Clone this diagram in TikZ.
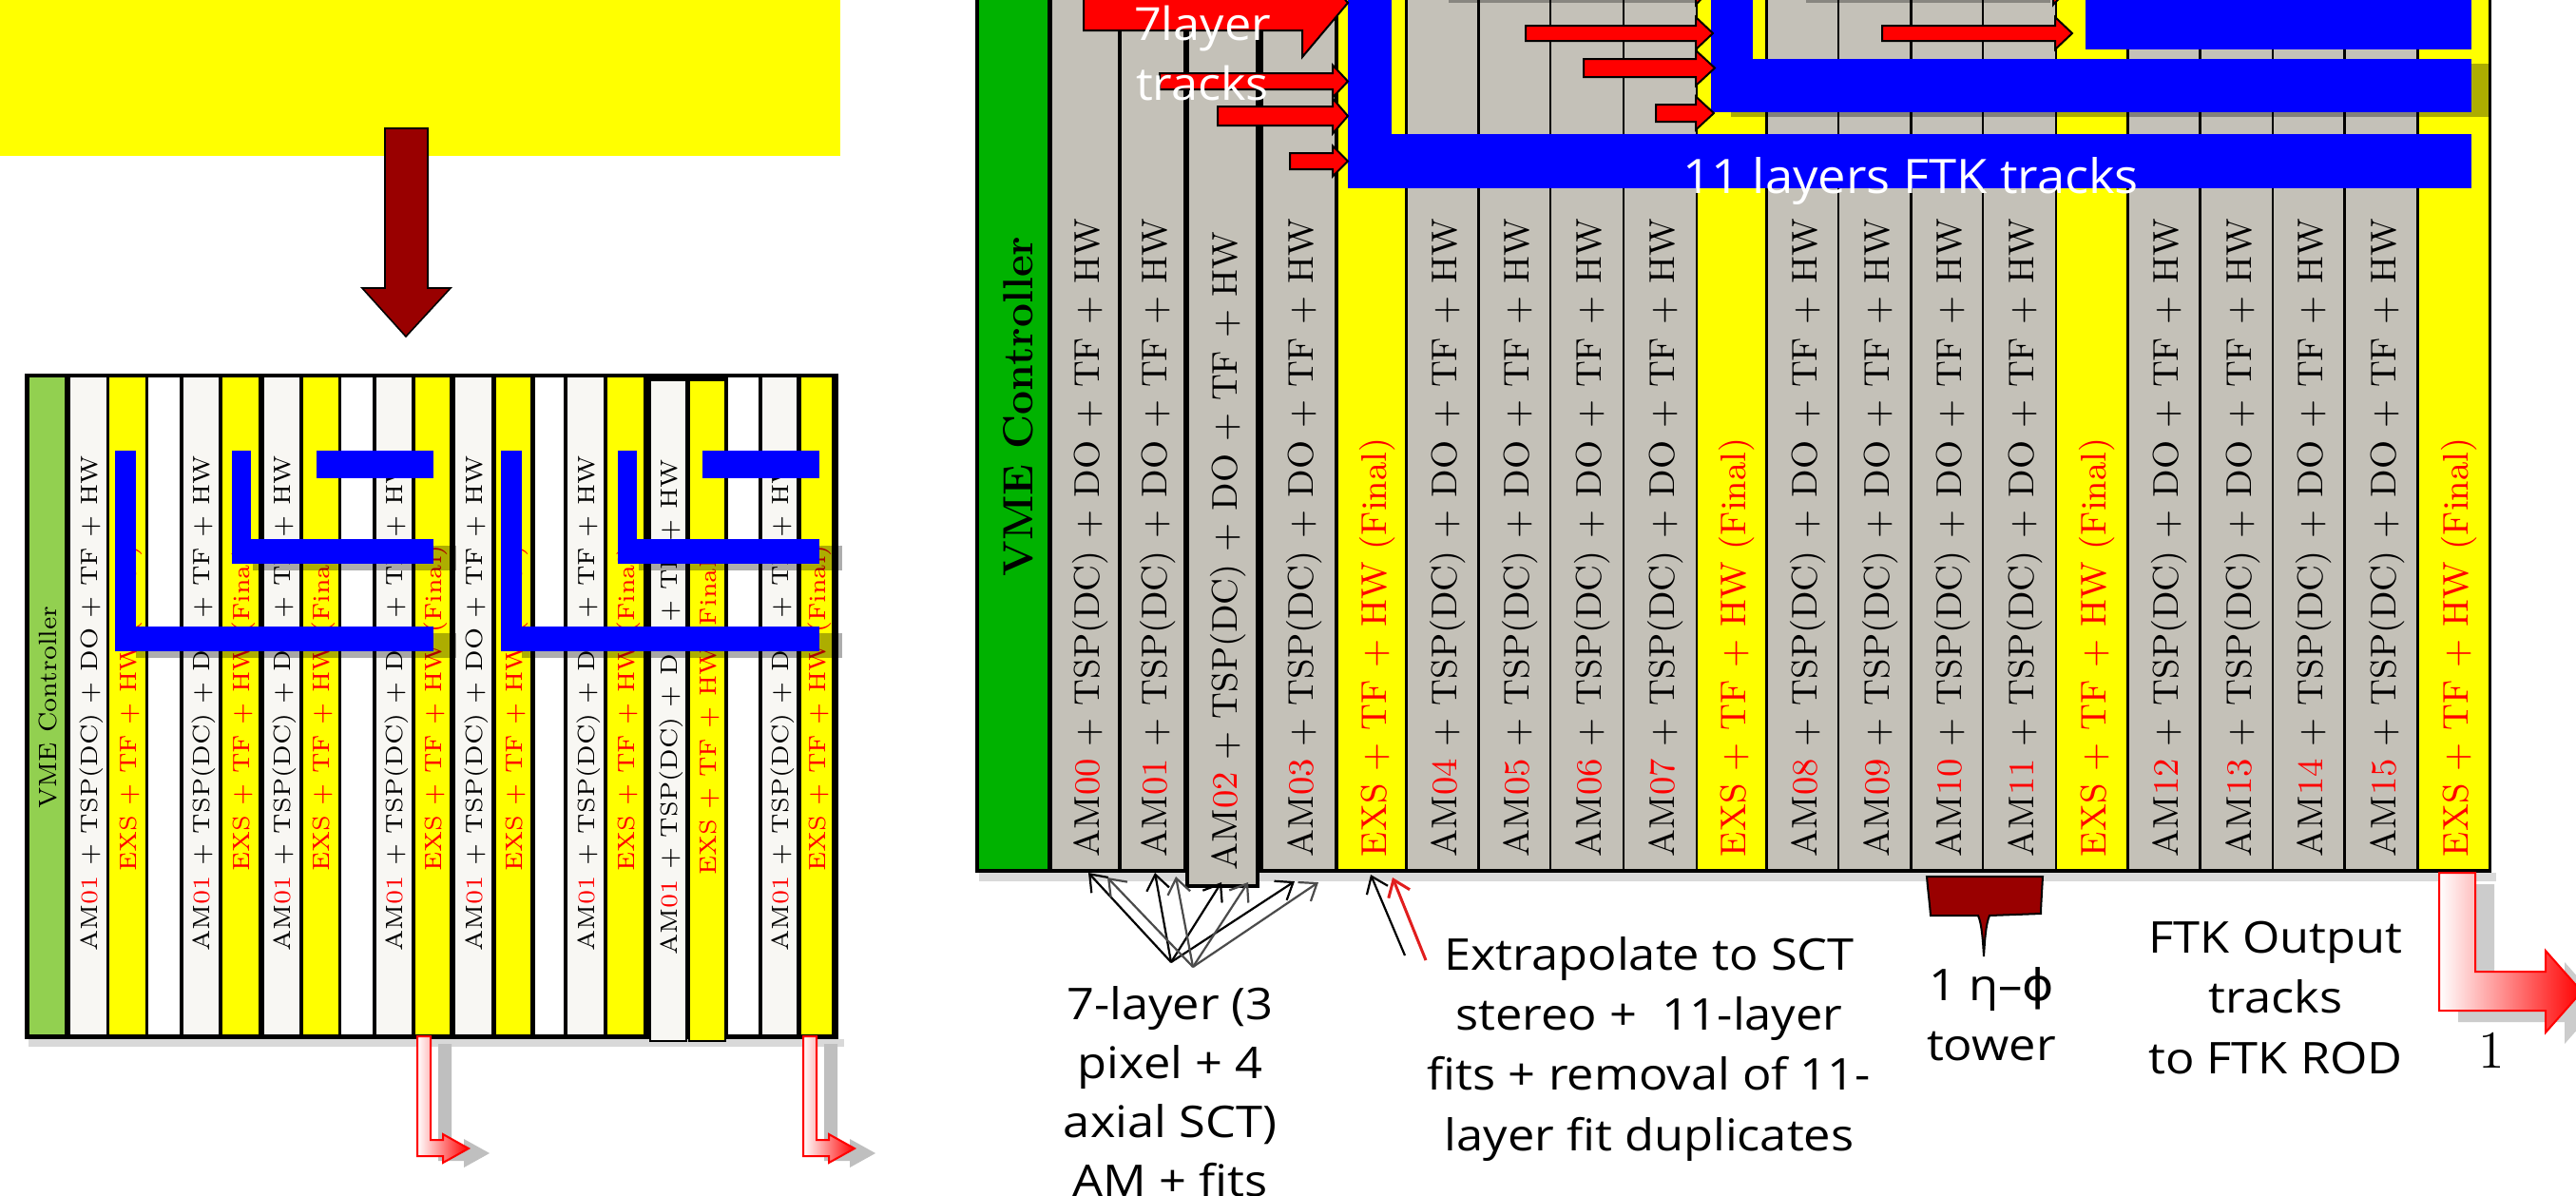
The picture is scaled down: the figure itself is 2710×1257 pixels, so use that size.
\documentclass[tikz,border=0pt]{standalone}
\usepackage{fontspec}
\usepackage{graphicx}
\newfontfamily\lblfont{Open Sans}
\newfontfamily\phifont{DejaVu Sans}
\usetikzlibrary{arrows.meta}
\definecolor{cyel}{RGB}{255,255,0}
\definecolor{cgreenR}{RGB}{0,178,0}
\definecolor{cgreenL}{RGB}{146,208,80}
\definecolor{cgray}{RGB}{196,193,184}
\definecolor{clight}{RGB}{248,247,243}
\definecolor{cblue}{RGB}{0,0,255}
\definecolor{cred}{RGB}{255,0,0}
\definecolor{cdred}{RGB}{153,0,0}
\definecolor{cdgray}{RGB}{75,75,75}
\definecolor{cpen}{RGB}{225,30,30}
\newcommand{\amtext}[1]{AM\textcolor{cred}{#1} + TSP(DC) + DO + TF + HW}
\newcommand{\exstext}{\textcolor{cred}{EXS + TF + HW (Final)}}
\newcommand{\lbl}[2][1.1]{\scalebox{#1}[1]{\begin{tabular}[t]{@{}c@{}}#2\end{tabular}}}
\tikzset{
  lblR/.style={rotate=90, inner sep=0pt, font=\fontsize{9.4}{10}\selectfont},
  lblRV/.style={rotate=90, inner sep=0pt, font=\bfseries\fontsize{11.1}{12}\selectfont},
  lblL/.style={rotate=90, inner sep=0pt, anchor=base, font=\fontsize{6.2}{7}\selectfont},
  bluebar/.style={fill=cblue},
  barshadow/.style={fill=black, opacity=0.32},
  redarrow/.style={fill=cred, draw=black, line width=0.5pt},
  outarrow/.style={draw=cred, line width=0.5pt, left color=white, right color=cred},
  outshadow/.style={fill=black!25},
  fanb/.style={draw=black, line width=0.55pt, -{Straight Barb[length=4pt,width=6pt]}},
  fang/.style={draw=cdgray, line width=0.55pt, -{Straight Barb[length=4pt,width=6pt]}},
  note/.style={inner sep=0pt, anchor=base, font=\lblfont\fontsize{11.5}{15.8}\selectfont},
  whitenote/.style={inner sep=0pt, anchor=base, text=white, font=\lblfont\fontsize{12}{15.75}\selectfont},
}
\newcommand{\rarrow}[6]{\filldraw[redarrow] (#1,#4-#5) -- (#2,#4-#5) -- (#2,#4-#6) -- (#3,#4) -- (#2,#4+#6) -- (#2,#4+#5) -- (#1,#4+#5) -- cycle;}
\begin{document}
\begin{tikzpicture}[x=0.25pt,y=-0.25pt]
\useasboundingbox (0,0) rectangle (2710,1257);
\clip (0,0) rectangle (2710,1257);
\fill[white] (0,0) rectangle (2710,1257);

% ---------- top-left yellow box and arrow ----------
\fill[cyel] (0,-5) rectangle (884,164);
\filldraw[fill=cdred, draw=black, line width=0.4pt] (405,135) -- (450,135) -- (450,303) -- (474,303) -- (427,354) -- (381,303) -- (405,303) -- cycle;

% ---------- left crate ----------
\fill[black, opacity=0.15] (30,1093) rectangle (888,1101);
\fill[black] (26,393) rectangle (882,1093);
\fill[cgreenL] (31,397) rectangle (68,1088);
\node[lblL, font=\fontsize{6.6}{7}\selectfont] (vmeL) at (59.5,744) {VME Controller};
\foreach \xa/\xb in {74/112,193/230,278/315,396/433,479/517,597/635,802/838}{
  \fill[clight] (\xa,397) rectangle (\xb,1088);
  \node[lblL] (amL\xa) at ({(\xa+\xb)/2+9},740) {\amtext{01}};
}
\foreach \xa/\xb in {115/153,234/272,319/356,437/473,522/558,639/677,843/875}{
  \fill[cyel] (\xa,397) rectangle (\xb,1088);
  \node[lblL] (exL\xa) at ({(\xa+\xb)/2+9},745) {\exstext};
}
\foreach \xa/\xb in {156/189,359/392,563/593,766/798}{
  \fill[white] (\xa,397) rectangle (\xb,1088);
}
\filldraw[fill=clight, draw=black, line width=0.6pt] (684,400) rectangle (722,1095);
\node[lblL] (amLoff) at (712,744) {\amtext{01}};
\filldraw[fill=cyel, draw=black, line width=0.6pt] (725,400) rectangle (763,1095);
\node[lblL] (exLoff) at (753,749) {\exstext};

% blue bars (two groups)
\foreach \dx in {0,406}{
  \begin{scope}[shift={(\dx,0)}]
    \fill[barshadow] (143,666) rectangle (480,692);
    \fill[barshadow] (266,574) rectangle (480,600);
    \fill[bluebar] (121,474) rectangle (143,685);
    \fill[bluebar] (121,659) rectangle (456,685);
    \fill[bluebar] (244,474) rectangle (264,593);
    \fill[bluebar] (244,567) rectangle (456,593);
    \fill[bluebar] (333,474) rectangle (456,503);
  \end{scope}
}

% output arrows below left crate
\foreach \dx in {0,406}{
  \path[outshadow, shift={(\dx+22,5)}] (439,1093) -- (453,1093) -- (453,1199) -- (466,1199) -- (466,1193) -- (493,1208) -- (466,1223) -- (466,1216) -- (439,1216) -- cycle;
  \path[outarrow, shift={(\dx,0)}] (439,1090) -- (453,1090) -- (453,1199) -- (466,1199) -- (466,1193) -- (493,1208) -- (466,1223) -- (466,1216) -- (439,1216) -- cycle;
}

% ---------- right crate ----------
\fill[black, opacity=0.15] (1030,918) rectangle (2626,927);
\fill[black] (1026,-5) rectangle (2621,918);
\fill[cgreenR] (1030,-5) rectangle (1102,914);
\node[lblRV, anchor=base east] (vmeR) at (1086,248) {VME Controller};
\foreach \xa/\xb/\n in {1107/1176/00,1180/1245/01,1329/1404/03,1481/1554/04,1557/1630/05,1632/1707/06,1709/1784/07,1860/1933/08,1935/2009/09,2012/2085/10,2087/2162/11,2240/2313/12,2316/2390/13,2392/2465/14,2468/2542/15}{
  \fill[cgray] (\xa,-5) rectangle (\xb,914);
  \node[lblR, anchor=base west] (amR\n) at ({(\xa+\xb)/2+15},902) {\amtext{\n}};
}
\foreach \xa/\xb/\n in {1408/1478/1,1786/1857/2,2164/2237/3,2545/2618/4}{
  \fill[cyel] (\xa,-5) rectangle (\xb,914);
  \node[lblR, anchor=base west] (exR\n) at ({(\xa+\xb)/2+15},902) {\exstext};
}
\filldraw[fill=cgray, draw=black, line width=0.8pt] (1249,-5) rectangle (1323,932);
\node[lblR, anchor=base west] (amR02) at (1301,916) {\amtext{02}};

% faint shadows at top edge
\fill[black, opacity=0.3] (1524,0) rectangle (1784,3);
\fill[black, opacity=0.3] (1900,0) rectangle (2157,3);

% blue track bars
\fill[barshadow] (1821,67) rectangle (2621,123);
\fill[bluebar] (1418,-5) rectangle (1464,198);
\fill[bluebar] (1418,141) rectangle (2600,198);
\fill[bluebar] (1800,-5) rectangle (1844,118);
\fill[bluebar] (1800,62) rectangle (2600,118);
\fill[bluebar] (2194,-5) rectangle (2600,52);

% red arrows
\rarrow{1140}{1370}{1418}{3}{29}{57}
\rarrow{1220}{1402}{1418}{85.5}{8.5}{17}
\rarrow{1281}{1402}{1418}{122}{10}{18.5}
\rarrow{1357}{1402}{1418}{169.5}{8.5}{16}
\rarrow{1640}{1784}{1800}{-12}{8}{17}
\rarrow{1605}{1784}{1802}{35}{8}{17}
\rarrow{1666}{1784}{1804}{71.5}{9.5}{18.5}
\rarrow{1742}{1784}{1803}{119}{9}{17.5}
\rarrow{2020}{2160}{2176}{-12}{8}{17}
\rarrow{1980}{2162}{2180}{35}{8}{17}

% white labels
\node[whitenote] (t7) at (1265,42) {\lbl[1.05]{7layer\\tracks}};
\node[whitenote, font=\lblfont\fontsize{12.5}{15}\selectfont] (t11) at (2010,203) {\scalebox{1.05}[1]{11 layers FTK tracks}};

% ---------- annotations below right crate ----------
\node[note, font=\lblfont\fontsize{11.5}{15.5}\selectfont] (l7) at (1231,1072) {\lbl{7-layer (3\\pixel + 4\\axial SCT)\\AM + fits}};
\node[note, font=\lblfont\fontsize{11.5}{15.85}\selectfont] (lex) at (1735,1020) {\lbl{Extrapolate to SCT\\stereo +\ \ 11-layer\\fits + removal of 11-\\layer fit duplicates}};
\node[note, font=\lblfont\fontsize{11.5}{15.75}\selectfont] (ltw) at (2095,1052) {\lbl{1 η–{\phifont ϕ}\\tower}};
\node[note, font=\lblfont\fontsize{11.5}{15.9}\selectfont] (lout) at (2394,1002) {\lbl{FTK Output\\tracks\\to FTK ROD}};
\node[inner sep=0pt, anchor=base, font=\fontsize{14}{15}\selectfont] (lone) at (2621,1123) {1};

% fan of arrows from the 7-layer label
\coordinate (fb) at (1232,1012);
\coordinate (fg) at (1255,1017);
\foreach \x/\y [count=\i] in {1145/918,1215/918,1285/928,1362/927}{
  \coordinate (tb\i) at (\x,\y);
  \draw[fanb] (fb) -- (tb\i);
}
\foreach \x/\y [count=\i] in {1165/923,1237/922,1313/928,1387/928}{
  \coordinate (tg\i) at (\x,\y);
  \draw[fang] (fg) -- (tg\i);
}
% arrows from the extrapolate label
\coordinate (ea) at (1478,1005);
\coordinate (eat) at (1442,920);
\coordinate (er) at (1500,1010);
\coordinate (ert) at (1465,923);
\draw[fanb] (ea) -- (eat);
\draw[fanb, draw=cpen, line width=0.75pt] (er) -- (ert);

% tower brace
\filldraw[fill=cdred, draw=black, line width=0.5pt] (2027,922) -- (2149,922) .. controls (2148,940) and (2147,955) .. (2147,961) -- (2093,963) .. controls (2089,972) and (2088,990) .. (2087,1006) .. controls (2086,990) and (2085,972) .. (2081,963) -- (2031,963) .. controls (2030,950) and (2028,935) .. (2027,922) -- cycle;

% output arrow of right crate
\path[outshadow, fill=black!20, shift={(20,12)}] (2566,918) -- (2604,918) -- (2604,1022) -- (2678,1022) -- (2678,1000) -- (2716,1043) -- (2678,1086) -- (2678,1063) -- (2566,1063) -- cycle;
\path[outarrow] (2566,918) -- (2604,918) -- (2604,1022) -- (2678,1022) -- (2678,1000) -- (2716,1043) -- (2678,1086) -- (2678,1063) -- (2566,1063) -- cycle;
\end{tikzpicture}
\end{document}
